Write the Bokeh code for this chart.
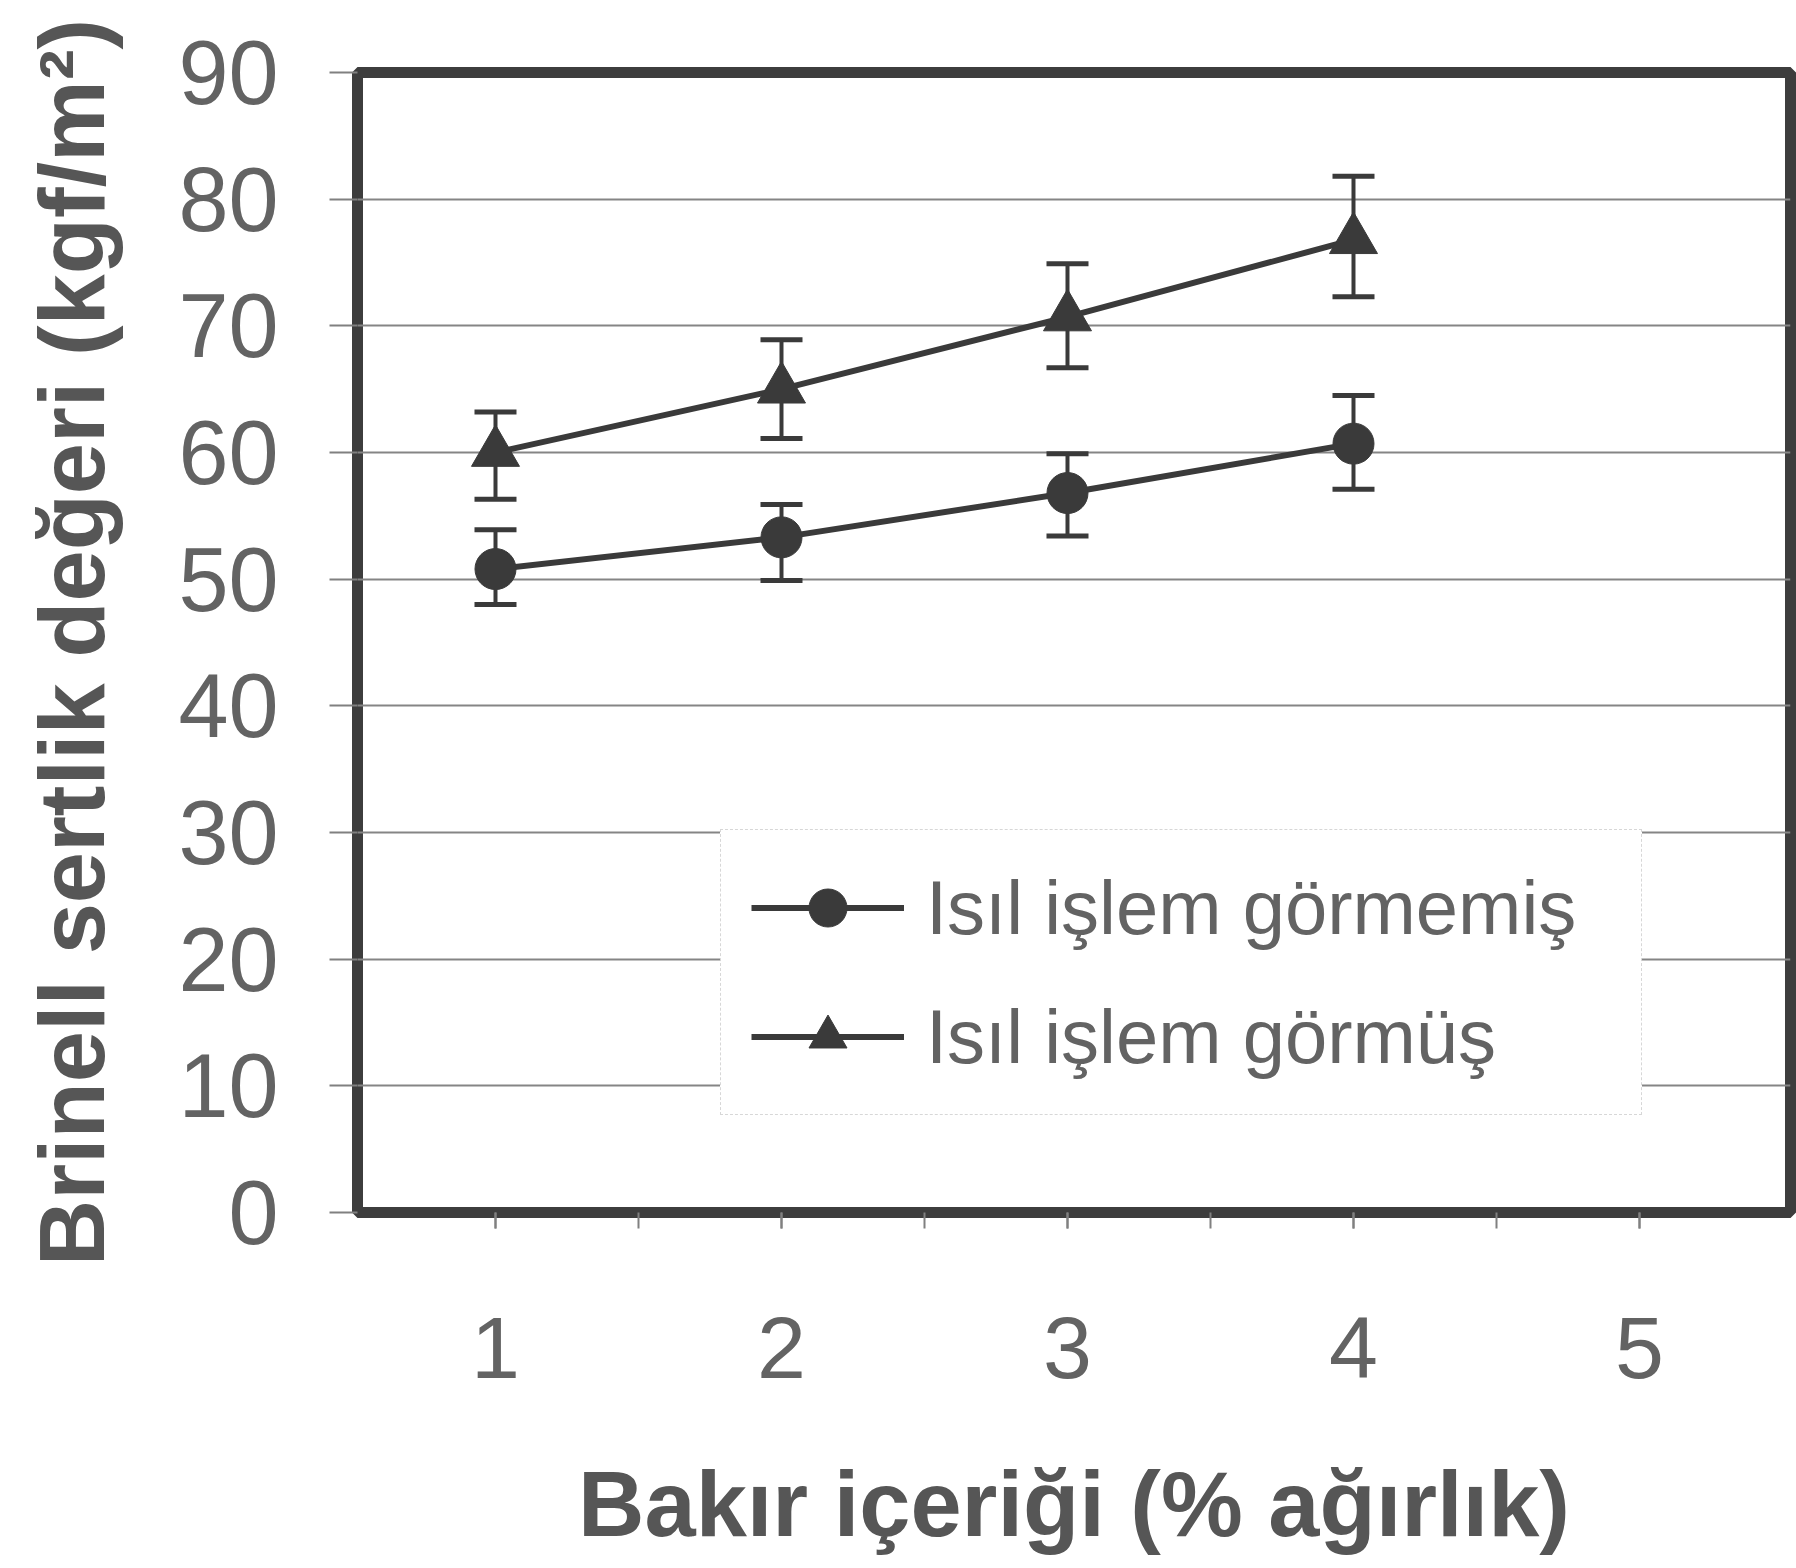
from bokeh.plotting import figure
from bokeh.models import (Range1d, FixedTicker, Whisker, TeeHead, ColumnDataSource,
                          Legend, LegendItem)
from bokeh.embed import file_html
from bokeh.resources import INLINE

# ---- data ----
cu_content = [1, 2, 3, 4]
x_ticks = [1, 2, 3, 4, 5]
x_minor_ticks = [1, 1.5, 2, 2.5, 3, 3.5, 4, 4.5, 5]
y_ticks = [0, 10, 20, 30, 40, 50, 60, 70, 80, 90]

untreated_mean = [50.8, 53.3, 56.8, 60.7]
untreated_upper = [53.9, 55.9, 59.9, 64.5]
untreated_lower = [48.0, 49.9, 53.4, 57.1]

treated_mean = [60.0, 65.0, 70.7, 76.8]
treated_upper = [63.2, 68.9, 74.9, 81.8]
treated_lower = [56.3, 61.1, 66.7, 72.3]

label_untreated = "Isıl işlem görmemiş"
label_treated = "Isıl işlem görmüş"
x_title = "Bakır içeriği (% ağırlık)"
y_title = "Brinell sertlik değeri (kgf/m²)"

DARK = "#3a3a3a"
TXT = "#636363"
FONT = "Liberation Sans"

p = figure(width=1796, height=1568,
           x_range=Range1d(0.5175, 5.528), y_range=Range1d(0, 90),
           output_backend="svg", toolbar_location=None,
           min_border_left=357, min_border_right=6,
           min_border_top=72, min_border_bottom=356)

p.background_fill_color = "white"
p.border_fill_color = "white"
p.outline_line_color = "#3d3d3d"
p.outline_line_width = 11

p.xgrid.visible = False
p.ygrid.grid_line_color = "#858585"
p.ygrid.grid_line_width = 2

p.xaxis.ticker = FixedTicker(ticks=x_ticks, minor_ticks=x_minor_ticks)
p.yaxis.ticker = FixedTicker(ticks=y_ticks, minor_ticks=[])

for ax in (p.xaxis[0], p.yaxis[0]):
    ax.axis_line_color = None
    ax.major_tick_line_color = "#808080"
    ax.major_tick_line_width = 2
    ax.major_tick_in = 0
    ax.minor_tick_in = 0
    ax.major_label_text_font = FONT
    ax.major_label_text_font_size = "88px"
    ax.major_label_text_color = TXT
    ax.axis_label_text_font = FONT
    ax.axis_label_text_font_style = "bold"
    ax.axis_label_text_color = "#565656"

xa = p.xaxis[0]
xa.axis_label = x_title
xa.axis_label_text_font_size = "92px"
xa.major_tick_out = 16
xa.minor_tick_out = 16
xa.minor_tick_line_color = "#808080"
xa.minor_tick_line_width = 2
xa.major_label_standoff = 89
xa.axis_label_standoff = 72

ya = p.yaxis[0]
ya.axis_label = y_title
ya.axis_label_text_font_size = "92px"
ya.major_label_text_font_size = "90px"
ya.major_tick_out = 28
ya.minor_tick_line_color = None
ya.major_label_standoff = 51
ya.axis_label_standoff = 52

src_u = ColumnDataSource(dict(x=cu_content, y=untreated_mean,
                              upper=untreated_upper, lower=untreated_lower))
src_t = ColumnDataSource(dict(x=cu_content, y=treated_mean,
                              upper=treated_upper, lower=treated_lower))

for src in (src_u, src_t):
    w = Whisker(source=src, base="x", upper="upper", lower="lower",
                line_color=DARK, line_width=4,
                upper_head=TeeHead(size=42, line_color=DARK, line_width=5),
                lower_head=TeeHead(size=42, line_color=DARK, line_width=5))
    p.add_layout(w)

line_u = p.line("x", "y", source=src_u, line_width=6, line_color=DARK)
sc_u = p.scatter("x", "y", source=src_u, marker="circle", size=41,
                 fill_color=DARK, line_color=DARK)
line_t = p.line("x", "y", source=src_t, line_width=6, line_color=DARK)
sc_t = p.scatter("x", "y", source=src_t, marker="triangle", size=48,
                 fill_color=DARK, line_color=DARK)

legend = Legend(items=[LegendItem(label=label_untreated, renderers=[line_u, sc_u]),
                       LegendItem(label=label_treated, renderers=[line_t, sc_t])],
                location=(363, 97), padding=30, spacing=34,
                glyph_width=153, glyph_height=95, label_standoff=22,
                label_width=685, label_text_font=FONT,
                label_text_font_size="76px", label_text_color=TXT,
                border_line_color="#b0b0b0", border_line_dash="2 4",
                border_line_width=1.5, background_fill_color="white",
                background_fill_alpha=1.0, margin=0)
p.add_layout(legend)

open("out.html", "w").write(file_html(p, INLINE))
